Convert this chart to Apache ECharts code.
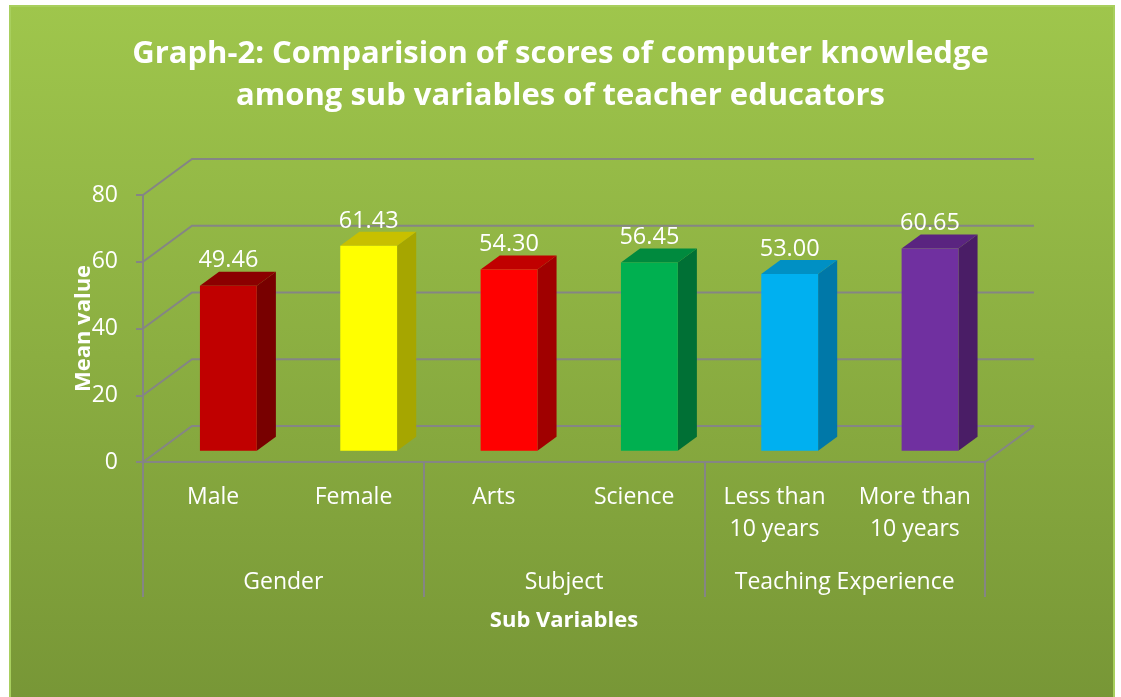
<!DOCTYPE html>
<html>
<head>
<meta charset="utf-8">
<script src="https://cdn.jsdelivr.net/npm/echarts@6/dist/echarts.min.js"></script>
<style>
  html, body { margin: 0; padding: 0; background: #fff; }
  #chart { width: 1121px; height: 697px; }
</style>
</head>
<body>
<div id="chart"></div>
<script>
  // data
  const categories = ['Male', 'Female', 'Arts', 'Science', 'Less than\n10 years', 'More than\n10 years'];
  const groups = ['Gender', 'Subject', 'Teaching Experience'];
  const values = [49.46, 61.43, 54.30, 56.45, 53.00, 60.65];
  const yTicks = [0, 20, 40, 60, 80];

  // front / top / side colour of each bar
  const frontColors = ['#c00000', '#ffff00', '#ff0000', '#00b050', '#00b0f0', '#7030a0'];
  const topColors = ['#8b0000', '#c8c000', '#c00000', '#008a3e', '#0090c4', '#5a2480'];
  const sideColors = ['#780000', '#a6a600', '#a00000', '#007035', '#0078a8', '#4a1d66'];

  const DX = 49, DY = -36;        // depth of the 3d box (back wall offset)
  const gridColor = '#858585';
  const fontFam = '"Open Sans", "Noto Sans", sans-serif';

  const myChart = echarts.init(document.getElementById('chart'));

  function renderWall(params, api) {
    const v = api.value(1);
    const bw = api.size([1, 0])[0];
    const p = api.coord([0, v]);
    const left = p[0] - bw / 2;
    const right = api.coord([categories.length - 1, v])[0] + bw / 2;
    const y = p[1];
    const children = [{
      type: 'polyline',
      shape: { points: [[left, y], [left + DX, y + DY], [right + DX, y + DY]] },
      style: { stroke: gridColor, lineWidth: 2, fill: null }
    }];
    if (v === 0) {
      children.push({
        type: 'line',
        shape: { x1: right, y1: y, x2: right + DX, y2: y + DY },
        style: { stroke: gridColor, lineWidth: 2 }
      });
    }
    return { type: 'group', children: children };
  }

  function renderBar(params, api) {
    const idx = api.value(0);
    const v = api.value(1);
    const bw = api.size([1, 0])[0];
    const w = bw * 0.405;
    const base = api.coord([idx, 0]);
    const top = api.coord([idx, v]);
    const ox = DX * 0.31, oy = DY * 0.31;
    const dx = DX * 0.39, dy = DY * 0.39;
    const x0 = base[0] - w / 2 + ox;
    const x1 = x0 + w;
    const yb = base[1] + oy;
    const yt = top[1] + oy;
    return {
      type: 'group',
      children: [
        {
          type: 'polygon',
          shape: { points: [[x1, yb], [x1 + dx, yb + dy], [x1 + dx, yt + dy], [x1, yt]] },
          style: { fill: sideColors[idx] }
        },
        {
          type: 'polygon',
          shape: { points: [[x0, yt], [x0 + dx, yt + dy], [x1 + dx, yt + dy], [x1, yt]] },
          style: { fill: topColors[idx] }
        },
        {
          type: 'rect',
          shape: { x: x0, y: yt, width: w, height: yb - yt },
          style: { fill: frontColors[idx] }
        },
        {
          type: 'text',
          x: x0 + w / 2,
          y: yt - 25,
          style: {
            text: v.toFixed(2),
            fill: '#ffffff',
            font: '23.5px ' + fontFam,
            align: 'center',
            verticalAlign: 'middle'
          }
        }
      ]
    };
  }

  myChart.setOption({
    backgroundColor: '#ffffff',
    textStyle: { fontFamily: fontFam },
    graphic: [{
      type: 'rect',
      z: -10,
      shape: { x: 10, y: 6, width: 1104, height: 700 },
      style: {
        fill: new echarts.graphic.LinearGradient(0, 0, 0, 1, [
          { offset: 0, color: '#9fc64c' },
          { offset: 1, color: '#779636' }
        ]),
        stroke: '#a8cf5e',
        lineWidth: 2
      }
    }],
    title: {
      text: 'Graph-2: Comparision of scores of computer knowledge\namong sub variables of teacher educators',
      left: 'center',
      top: 33,
      padding: 0,
      textStyle: {
        color: '#ffffff',
        fontSize: 31,
        fontWeight: 'bold',
        lineHeight: 42,
        fontFamily: fontFam
      }
    },
    grid: { left: 143, right: 136, top: 195, bottom: 235 },
    xAxis: [
      {
        type: 'category',
        position: 'bottom',
        data: categories,
        axisLine: { lineStyle: { color: gridColor, width: 2 } },
        axisTick: { show: false },
        axisLabel: {
          interval: 0,
          margin: 19,
          color: '#ffffff',
          fontSize: 23,
          lineHeight: 32
        }
      },
      {
        type: 'category',
        position: 'bottom',
        data: groups,
        axisLine: { show: false },
        axisTick: { show: true, length: 135, interval: 0, lineStyle: { color: gridColor, width: 2 } },
        axisLabel: {
          interval: 0,
          margin: 107,
          color: '#ffffff',
          fontSize: 23,
          lineHeight: 26
        },
        name: 'Sub Variables',
        nameLocation: 'middle',
        nameGap: 146,
        nameMoveOverlap: false,
        nameTextStyle: { color: '#ffffff', fontSize: 22, fontWeight: 'bold', lineHeight: 26 }
      }
    ],
    yAxis: {
      type: 'value',
      min: 0,
      max: 80,
      interval: 20,
      axisLine: { show: true, lineStyle: { color: gridColor, width: 2 } },
      axisTick: { show: true, length: 7, lineStyle: { color: gridColor, width: 2 } },
      splitLine: { show: false },
      axisLabel: { margin: 25, color: '#ffffff', fontSize: 23 },
      name: 'Mean value',
      nameLocation: 'middle',
      nameGap: 48,
      nameMoveOverlap: false,
      nameTextStyle: { color: '#ffffff', fontSize: 22, fontWeight: 'bold' }
    },
    series: [
      {
        type: 'custom',
        xAxisIndex: 0,
        renderItem: renderWall,
        data: yTicks.map(function (v) { return [0, v]; }),
        silent: true,
        z: 1
      },
      {
        type: 'custom',
        xAxisIndex: 0,
        renderItem: renderBar,
        data: values.map(function (v, i) { return [i, v]; }),
        z: 3
      }
    ]
  });
</script>
</body>
</html>
